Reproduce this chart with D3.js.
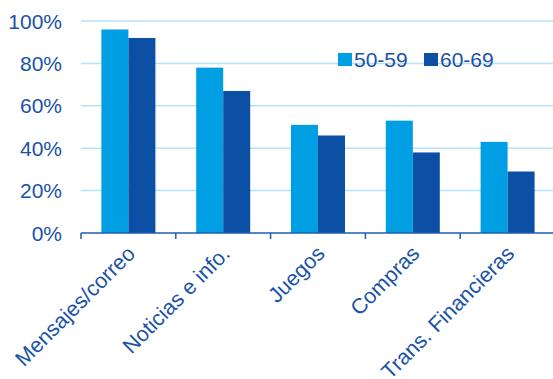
<!DOCTYPE html>
<html>
<head>
<meta charset="utf-8">
<script src="https://cdn.jsdelivr.net/npm/d3@7"></script>
<style>
  body { margin: 0; background: #fff; }
  svg text { font-family: "Liberation Sans", Arial, sans-serif; }
</style>
</head>
<body>
<div id="chart"></div>
<script>
// Données
const categories = ["Mensajes/correo", "Noticias e info.", "Juegos", "Compras", "Trans. Financieras"];
const series = ["50-59", "60-69"];
const values5059 = [96, 78, 51, 53, 43];
const values6069 = [92, 67, 46, 38, 29];
const yTicks = [0, 20, 40, 60, 80, 100];

const colors = ["#009fe3", "#0b50a4"];
const textColor = "#1a52a8";

const width = 553, height = 379;
const margin = { top: 21, right: -2, bottom: 146, left: 81 };
const w = width - margin.left - margin.right;
const h = height - margin.top - margin.bottom;

const svg = d3.select("#chart").append("svg")
    .attr("width", width)
    .attr("height", height);

const g = svg.append("g").attr("transform", `translate(${margin.left},${margin.top})`);

const x = d3.scaleBand().domain(categories).range([0, w]).paddingInner(0).paddingOuter(0);
const x1 = d3.scaleBand().domain(series).range([x.bandwidth() / 2 - 27, x.bandwidth() / 2 + 27]);
const y = d3.scaleLinear().domain([0, 100]).range([h, 0]);

// grille
g.selectAll(".grid").data(yTicks.filter(d => d > 0)).enter().append("line")
    .attr("x1", 0).attr("x2", w)
    .attr("y1", d => y(d)).attr("y2", d => y(d))
    .attr("stroke", "#b5e2f7").attr("stroke-width", 1.5);

// labels axe y
g.selectAll(".ylab").data(yTicks).enter().append("text")
    .attr("x", -19).attr("y", d => y(d))
    .attr("dy", "0.36em")
    .attr("text-anchor", "end")
    .attr("font-size", 21)
    .attr("fill", textColor)
    .text(d => d + "%");

// barres
const data = categories.map((c, i) => ({ cat: c, vals: [values5059[i], values6069[i]] }));
const grp = g.selectAll(".grp").data(data).enter().append("g")
    .attr("transform", d => `translate(${x(d.cat)},0)`);
grp.selectAll("rect").data(d => d.vals.map((v, k) => ({ s: series[k], v: v, k: k }))).enter().append("rect")
    .attr("x", d => x1(d.s))
    .attr("width", x1.bandwidth())
    .attr("y", d => y(d.v))
    .attr("height", d => h - y(d.v))
    .attr("fill", d => colors[d.k]);

// axe x
g.append("line").attr("x1", 0).attr("x2", w).attr("y1", h).attr("y2", h)
    .attr("stroke", "#1f5cb0").attr("stroke-width", 1.5);
const bounds = categories.map(c => x(c));
g.selectAll(".tk").data(bounds).enter().append("line")
    .attr("x1", d => d).attr("x2", d => d)
    .attr("y1", h).attr("y2", h + 6)
    .attr("stroke", "#1f5cb0").attr("stroke-width", 1.5);

g.selectAll(".xlab").data(categories).enter().append("text")
    .attr("transform", d => `translate(${x(d) + x.bandwidth() / 2 + 8},${h + 22}) rotate(-45)`)
    .attr("text-anchor", "end")
    .attr("font-size", 21.5)
    .attr("fill", textColor)
    .text(d => d);

// légende
const legend = svg.append("g").attr("transform", "translate(338,53)");
series.forEach((s, i) => {
    const lg = legend.append("g").attr("transform", `translate(${i * 86},0)`);
    lg.append("rect").attr("width", 14).attr("height", 13).attr("fill", colors[i]);
    lg.append("text").attr("x", 16).attr("y", 13.5)
        .attr("font-size", 21).attr("fill", textColor).text(s);
});
</script>
</body>
</html>
